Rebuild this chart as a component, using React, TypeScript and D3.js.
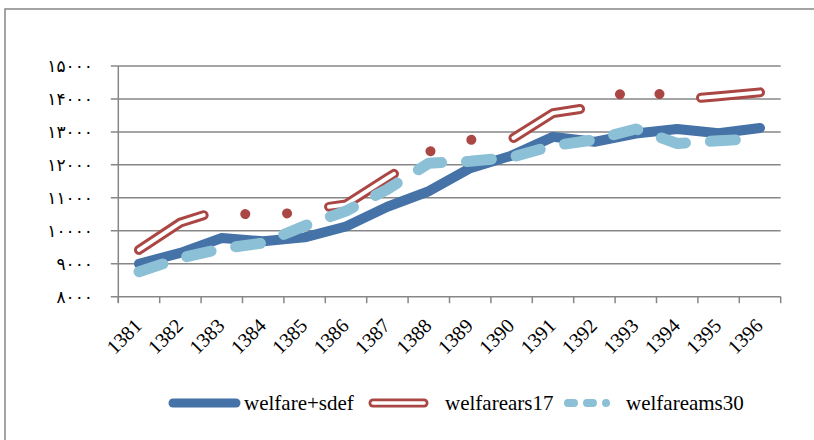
import React, { useEffect, useRef } from "react";
import * as d3 from "d3";

// values
const years = [
  "1381", "1382", "1383", "1384", "1385", "1386", "1387", "1388",
  "1389", "1390", "1391", "1392", "1393", "1394", "1395", "1396",
];
const welfareSdef = [
  9000, 9330, 9780, 9680, 9800, 10130, 10730, 11200,
  11900, 12280, 12850, 12700, 12950, 13090, 12960, 13120,
];
const welfareArs17 = [
  9420, 10250, 10650, 10400, 10620, 10800, 11600, 12400,
  12760, 12780, 13570, 13760, 14380, 13980, 14080, 14200,
];
const welfareAms30 = [
  8760, 9170, 9460, 9630, 10150, 10600, 11260, 12050,
  12110, 12230, 12580, 12760, 13090, 12650, 12730, 12800,
];
const yTicks = [8000, 9000, 10000, 11000, 12000, 13000, 14000, 15000];
const seriesNames = ["welfare+sdef", "welfarears17", "welfareams30"];

const persianDigits = "۰۱۲۳۴۵۶۷۸۹";
const toPersian = (n: number) =>
  String(n).replace(/\d/g, (d) => persianDigits[+d]);

export default function App() {
  const ref = useRef<SVGSVGElement>(null);

  useEffect(() => {
    draw();
  }, []);

  const draw = () => {
    const svg = d3.select(ref.current);
    svg.selectAll("*").remove();

    const left = 118.3;
    const right = 780.7;
    const top = 66;
    const bottom = 296.7;
    const grey = "#878787";
    const serif = "Liberation Serif";

    const x = d3.scaleBand().domain(years).range([left, right]);
    const y = d3.scaleLinear().domain([8000, 15000]).range([bottom, top]);
    const xc = (yr: string) => (x(yr) as number) + x.bandwidth() / 2;

    // outer frame
    svg
      .append("rect")
      .attr("x", 5)
      .attr("y", 9)
      .attr("width", 840)
      .attr("height", 460)
      .attr("fill", "none")
      .attr("stroke", grey)
      .attr("stroke-width", 1.5);

    // gridlines + y ticks
    svg
      .append("g")
      .selectAll("line")
      .data(yTicks)
      .enter()
      .append("line")
      .attr("x1", left - 7.5)
      .attr("x2", right)
      .attr("y1", (d) => y(d))
      .attr("y2", (d) => y(d))
      .attr("stroke", grey)
      .attr("stroke-width", 1.5);

    svg
      .append("line")
      .attr("x1", left)
      .attr("x2", left)
      .attr("y1", top)
      .attr("y2", bottom + 6)
      .attr("stroke", grey)
      .attr("stroke-width", 1.5);

    // x ticks between categories
    const bounds = years.map((yr) => x(yr) as number).concat([right]);
    svg
      .append("g")
      .selectAll("line")
      .data(bounds)
      .enter()
      .append("line")
      .attr("x1", (d) => d)
      .attr("x2", (d) => d)
      .attr("y1", bottom)
      .attr("y2", bottom + 6.5)
      .attr("stroke", grey)
      .attr("stroke-width", 1.5);

    // y labels
    svg
      .append("g")
      .selectAll("text")
      .data(yTicks)
      .enter()
      .append("text")
      .attr("x", 93)
      .attr("y", (d) => y(d))
      .attr("dy", "0.35em")
      .attr("text-anchor", "end")
      .style("font-family", "DejaVu Sans, sans-serif")
      .style("font-size", "17px")
      .attr("fill", "#000")
      .text((d) => toPersian(d));

    // x labels
    svg
      .append("g")
      .selectAll("text")
      .data(years)
      .enter()
      .append("text")
      .attr("transform", (d) => `translate(${xc(d) + 4}, 327) rotate(-45)`)
      .attr("text-anchor", "end")
      .style("font-family", serif)
      .style("font-size", "20px")
      .attr("fill", "#000")
      .text((d) => d);

    const line = d3
      .line<number>()
      .x((d, i) => xc(years[i]))
      .y((d) => y(d));

    // welfare+sdef
    svg
      .append("path")
      .attr("d", line(welfareSdef))
      .attr("fill", "none")
      .attr("stroke", "#4572A7")
      .attr("stroke-width", 10)
      .attr("stroke-linejoin", "round")
      .attr("stroke-linecap", "round");

    // welfarears17 : double line, long dash dot dot
    svg
      .append("path")
      .attr("d", line(welfareArs17))
      .attr("fill", "none")
      .attr("stroke", "#AA4643")
      .attr("stroke-width", 10)
      .attr("stroke-dasharray", "74 43 0.01 42.5 0.01 42.5")
      .attr("stroke-linejoin", "round")
      .attr("stroke-linecap", "round");
    svg
      .append("path")
      .attr("d", line(welfareArs17))
      .attr("fill", "none")
      .attr("stroke", "#fff")
      .attr("stroke-width", 4)
      .attr("stroke-dasharray", "74 128")
      .attr("stroke-linejoin", "round")
      .attr("stroke-linecap", "round");

    // welfareams30 : dashed
    svg
      .append("path")
      .attr("d", line(welfareAms30))
      .attr("fill", "none")
      .attr("stroke", "#8CC0D6")
      .attr("stroke-width", 11)
      .attr("stroke-dasharray", "25 25")
      .attr("stroke-linejoin", "round")
      .attr("stroke-linecap", "round");

    // legend
    const ly = 403;
    const lg = svg.append("g");
    lg.append("line")
      .attr("x1", 173)
      .attr("x2", 236)
      .attr("y1", ly)
      .attr("y2", ly)
      .attr("stroke", "#4572A7")
      .attr("stroke-width", 9)
      .attr("stroke-linecap", "round");
    lg.append("line")
      .attr("x1", 373)
      .attr("x2", 424)
      .attr("y1", ly)
      .attr("y2", ly)
      .attr("stroke", "#AA4643")
      .attr("stroke-width", 9)
      .attr("stroke-linecap", "round");
    lg.append("line")
      .attr("x1", 373)
      .attr("x2", 424)
      .attr("y1", ly)
      .attr("y2", ly)
      .attr("stroke", "#fff")
      .attr("stroke-width", 3.5)
      .attr("stroke-linecap", "round");
    lg.append("line")
      .attr("x1", 568)
      .attr("x2", 620)
      .attr("y1", ly)
      .attr("y2", ly)
      .attr("stroke", "#8CC0D6")
      .attr("stroke-width", 8)
      .attr("stroke-dasharray", "6 13 6 13 0.01 40")
      .attr("stroke-linecap", "round");

    const labelX = [244, 445, 626];
    lg.selectAll("text")
      .data(seriesNames)
      .enter()
      .append("text")
      .attr("x", (d, i) => labelX[i])
      .attr("y", ly)
      .attr("dy", "0.35em")
      .style("font-family", serif)
      .style("font-size", "21px")
      .attr("fill", "#000")
      .text((d) => d);
  };

  return (
    <svg
      ref={ref}
      width={814}
      height={440}
      style={{ position: "absolute", left: 0, top: 0, background: "#fff" }}
    />
  );
}
